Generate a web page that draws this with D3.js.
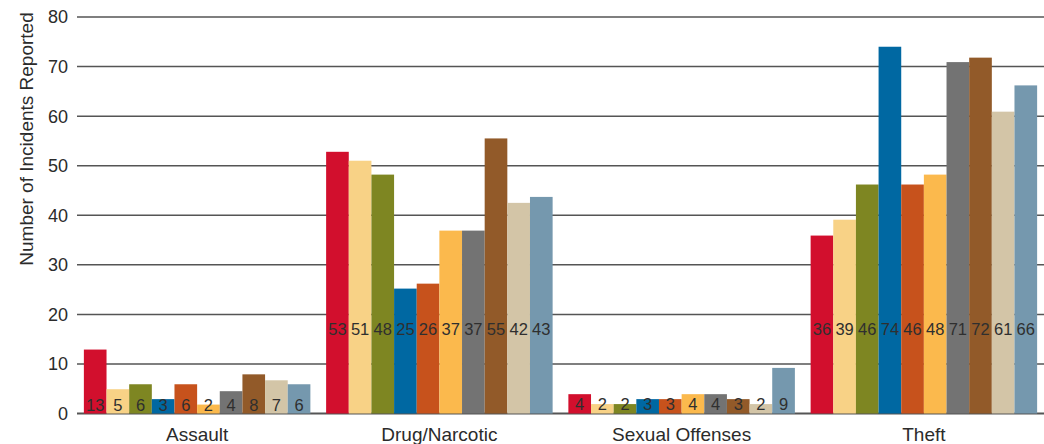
<!DOCTYPE html>
<html>
<head>
<meta charset="utf-8">
<script src="https://d3js.org/d3.v7.min.js"></script>
<style>
	body { margin: 0; background: #fff; }
	svg { display: block; }
</style>
</head>
<body>
<svg id="chart" width="1044" height="444" font-family="'Liberation Sans', Arial, sans-serif"></svg>
<script>
var categories = ["Assault", "Drug/Narcotic", "Sexual Offenses", "Theft"];
var seriesColors = ["#d20f2d", "#f8d286", "#7e8622", "#0068a2", "#c7521c", "#fbb94d", "#737373", "#925a29", "#d3c5a7", "#7598ae"];

// bar heights as drawn, one array per category (10 series each)
var assault = [12.9, 4.9, 5.9, 2.9, 5.9, 1.8, 4.5, 7.9, 6.7, 5.9];
var drug = [52.8, 51.0, 48.2, 25.2, 26.2, 36.9, 36.9, 55.5, 42.5, 43.7];
var sexual = [3.9, 1.9, 1.9, 2.9, 2.9, 3.9, 3.9, 2.9, 1.9, 9.2];
var theft = [35.9, 39.1, 46.2, 74.0, 46.2, 48.2, 70.9, 71.8, 60.9, 66.2];

// numbers printed on the bars
var assaultLabels = [13, 5, 6, 3, 6, 2, 4, 8, 7, 6];
var drugLabels = [53, 51, 48, 25, 26, 37, 37, 55, 42, 43];
var sexualLabels = [4, 2, 2, 3, 3, 4, 4, 3, 2, 9];
var theftLabels = [36, 39, 46, 74, 46, 48, 71, 72, 61, 66];

var yTicks = [0, 10, 20, 30, 40, 50, 60, 70, 80];

var values = [assault, drug, sexual, theft];
var labels = [assaultLabels, drugLabels, sexualLabels, theftLabels];

var svg = d3.select("#chart"),
	width = +svg.attr("width"),
	plotLeft = 77,
	plotTop = 17,
	plotBottom = 413.5;

var x0 = d3.scaleBand()
	.domain(categories)
	.range([plotLeft - 1, width + 1])
	.paddingInner(0.065)
	.paddingOuter(0.0325);

var x1 = d3.scaleBand()
	.domain(d3.range(seriesColors.length))
	.range([0, x0.bandwidth()]);

var y = d3.scaleLinear()
	.domain([0, 80])
	.range([plotBottom, plotTop]);

// gridlines
var grid = svg.append("g");
grid.selectAll("line")
	.data(yTicks)
	.enter().append("line")
		.attr("x1", plotLeft)
		.attr("x2", width)
		.attr("y1", function(d) { return y(d); })
		.attr("y2", function(d) { return y(d); })
		.attr("stroke", "#555")
		.attr("stroke-width", function(d) { return d === 0 ? 2 : 1.5; });

grid.selectAll("text")
	.data(yTicks)
	.enter().append("text")
		.attr("x", 68)
		.attr("y", function(d) { return y(d); })
		.attr("dy", "0.36em")
		.attr("text-anchor", "end")
		.attr("font-size", 18)
		.attr("fill", "#2b2b2b")
		.text(function(d) { return d; });

svg.append("text")
	.attr("transform", "translate(33,139)rotate(-90)")
	.attr("text-anchor", "middle")
	.attr("font-size", 19)
	.attr("fill", "#2b2b2b")
	.text("Number of Incidents Reported");

// bars
var groups = svg.append("g")
	.selectAll("g")
	.data(categories)
	.enter().append("g")
		.attr("transform", function(d) { return "translate(" + x0(d) + ",0)"; });

groups.selectAll("rect")
	.data(function(d, i) { return values[i]; })
	.enter().append("rect")
		.attr("x", function(d, j) { return x1(j); })
		.attr("y", function(d) { return y(d); })
		.attr("width", x1.bandwidth())
		.attr("height", function(d) { return y(0) - y(d); })
		.attr("fill", function(d, j) { return seriesColors[j]; });

// value labels sit at the same height across a group
groups.each(function(c, i) {
	var at = Math.min(17, d3.min(values[i]));
	d3.select(this).selectAll("text.val")
		.data(labels[i])
		.enter().append("text")
			.attr("class", "val")
			.attr("x", function(d, j) { return x1(j) + x1.bandwidth() / 2; })
			.attr("y", y(at))
			.attr("dy", "0.36em")
			.attr("text-anchor", "middle")
			.attr("font-size", 16.5)
			.attr("fill", "#2f2f2f")
			.text(function(d) { return d; });
});

groups.append("text")
	.attr("x", x0.bandwidth() / 2)
	.attr("y", 441)
	.attr("text-anchor", "middle")
	.attr("font-size", 19)
	.attr("fill", "#2b2b2b")
	.text(function(d) { return d; });
</script>
</body>
</html>
